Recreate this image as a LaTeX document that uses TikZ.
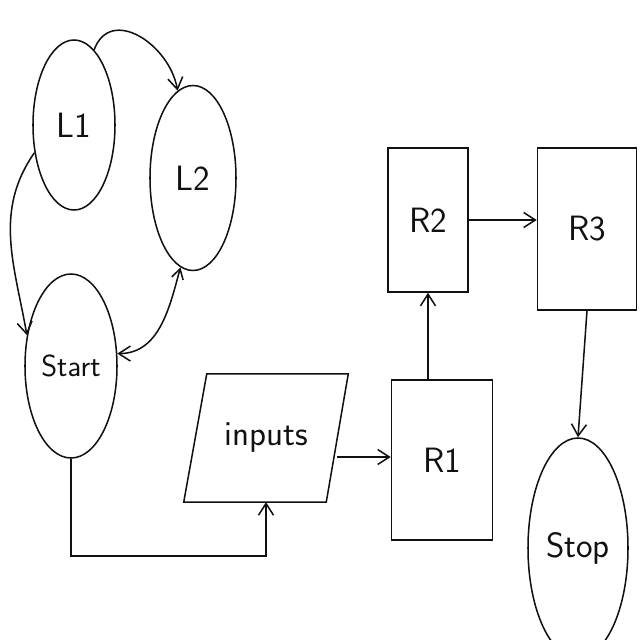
\documentclass[tikz,border=0pt]{standalone}
\usepackage{tikz}
\usetikzlibrary{positioning,arrows.meta,calc,shapes.geometric}
\definecolor{ink}{HTML}{111111}

\begin{document}
\begin{tikzpicture}[x=0.03cm,y=-0.03cm,
  line width=1.3pt, draw=ink,
  every node/.style={font=\sffamily\fontsize{30}{36}\selectfont, text=ink},
  loop/.style={ellipse, draw=ink, line width=1.3pt, inner sep=0pt},
  box/.style={rectangle, draw=ink, line width=1.3pt, inner sep=0pt},
  link/.style={draw=ink, -{Straight Barb[length=3.5mm,width=4.5mm]}}]
\useasboundingbox[fill=white] (0,0) rectangle (640,640);
\node[loop, minimum width=2.46cm, minimum height=5.1cm] (L1) at (74,125) {L1};
\node[loop, minimum width=2.58cm, minimum height=5.55cm] (L2) at (193,178) {L2};
\node[loop, minimum width=2.76cm, minimum height=5.52cm, font=\sffamily\fontsize{26}{30}\selectfont] (Start) at (71,366) {Start};
\node[minimum width=4.89cm, minimum height=3.8cm, inner sep=0pt] (inputs) at (266,438) {inputs};
\draw ($(inputs.north west)+(23,0)$) -- (inputs.north east) -- ($(inputs.south east)+(-22,0)$) -- (inputs.south west) -- cycle;
\coordinate (inout) at ($(inputs.east)+(-11,19)$);
\node[box, minimum width=3.03cm, minimum height=4.8cm] (R1) at (442,460) {R1};
\node[box, minimum width=2.4cm, minimum height=4.32cm] (R2) at (428,220) {R2};
\node[box, minimum width=2.97cm, minimum height=4.86cm] (R3) at (587,229) {R3};
\node[loop, minimum width=3.0cm, minimum height=6.6cm] (Stop) at (578,548) {Stop};
% left loop
\draw[link] (L1.75) to[out=70,in=100,looseness=1.3] (L2.100);
\draw[link] (L1.215) to[out=235,in=100] (Start.145);
\draw[link, {Straight Barb[length=3mm,width=3.5mm]}-{Straight Barb[length=3.5mm,width=4.5mm]}] (L2.262) to[out=255,in=0] (Start.15);
% main line
\draw[link] (Start.south) -- ++(0,97) -| (inputs.south);
\draw[link] (inout) -- (inout -| R1.west);
\draw[link] (R2.south |- R1.north) -- (R2.south);
\draw[link] (R2.east) -- (R2.east -| R3.west);
\draw[link] (R3.south) -- (Stop.north);
\end{tikzpicture}
\end{document}
